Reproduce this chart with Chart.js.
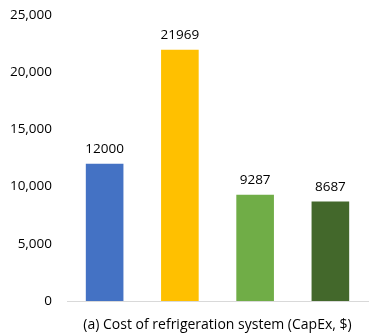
<!DOCTYPE html>
<html>
<head>
<meta charset="utf-8">
<script src="https://cdn.jsdelivr.net/npm/chart.js@4.4.1/dist/chart.umd.min.js"></script>
<style>
  html, body { margin: 0; padding: 0; background: #fff; }
  #wrap { width: 379px; height: 333px; }
</style>
</head>
<body>
<div id="wrap"><canvas id="myChart"></canvas></div>
<script>
// chart data
const categories = ['System A', 'System B', 'System C', 'System D'];
const capex = [12000, 21969, 9287, 8687];
const barColors = ['#4472C4', '#FFC000', '#70AD47', '#43682B'];
const axisTitle = '(a) Cost of refrigeration system (CapEx, $)';

const fontFamily = '"Open Sans", "Liberation Sans", sans-serif';

// writes the value above each bar
const valueLabels = {
    id: 'valueLabels',
    afterDatasetsDraw(chart) {
        const ctx = chart.ctx;
        const meta = chart.getDatasetMeta(0);
        ctx.save();
        ctx.font = '13.5px ' + fontFamily;
        ctx.fillStyle = '#000';
        ctx.textAlign = 'center';
        ctx.textBaseline = 'bottom';
        meta.data.forEach((bar, i) => {
            ctx.fillText(String(capex[i]), bar.x, bar.y - 8);
        });
        ctx.restore();
    }
};

const ctx = document.getElementById('myChart');
new Chart(ctx, {
    type: 'bar',
    data: {
        labels: categories,
        datasets: [{
            data: capex,
            backgroundColor: barColors,
            borderWidth: 0,
            barPercentage: 0.5,
            categoryPercentage: 1.0
        }]
    },
    options: {
        responsive: true,
        maintainAspectRatio: false,
        animation: false,
        layout: { padding: { top: 15, right: 11, left: 0, bottom: 0 } },
        plugins: {
            legend: { display: false },
            tooltip: { enabled: false }
        },
        scales: {
            x: {
                grid: { display: false, drawTicks: false },
                border: { display: true, color: '#D9D9D9', width: 1 },
                ticks: { display: false },
                title: {
                    display: true,
                    text: axisTitle,
                    color: '#000',
                    font: { family: fontFamily, size: 14 },
                    padding: { top: 6, bottom: 0 }
                },
                afterFit(scale) { scale.height = 32; }
            },
            y: {
                min: 0,
                max: 25000,
                grid: { display: false, drawTicks: false },
                border: { display: false },
                ticks: {
                    stepSize: 5000,
                    padding: 15,
                    color: '#000',
                    font: { family: fontFamily, size: 13.5 },
                    callback: v => v.toLocaleString('en-US')
                },
                afterFit(scale) {
                    scale.width = 67;
                    scale.paddingTop = 0;
                    scale.paddingBottom = 0;
                }
            }
        }
    },
    plugins: [valueLabels]
});
</script>
</body>
</html>
